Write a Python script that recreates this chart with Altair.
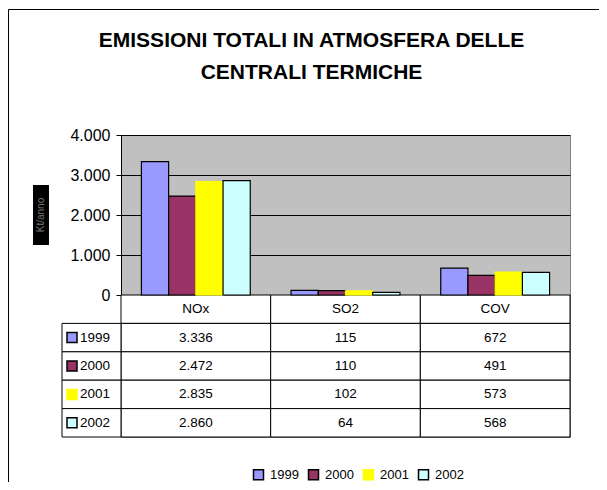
import altair as alt
import pandas as pd

categories = ["NOx", "SO2", "COV"]
years = ["1999", "2000", "2001", "2002"]
v1999 = [3336, 115, 672]
v2000 = [2472, 110, 491]
v2001 = [2835, 102, 573]
v2002 = [2860, 64, 568]
fill_colors = ["#9999FF", "#993366", "#FFFF00", "#CCFFFF"]
stroke_colors = ["#000000", "#000000", "#FFFF00", "#000000"]
y_ticks = [0, 1000, 2000, 3000, 4000]
title_lines = ["EMISSIONI TOTALI IN ATMOSFERA DELLE", "CENTRALI TERMICHE"]
y_title = "Kt/anno"

series = {"1999": v1999, "2000": v2000, "2001": v2001, "2002": v2002}

def it_fmt(v):
    return f"{v:,}".replace(",", ".")

bars_df = pd.DataFrame(
    [{"cat": c, "year": y, "value": series[y][i]} for y in years for i, c in enumerate(categories)]
)
rows = ["hdr"] + years
cells = [{"cat": c, "row": "hdr", "label": c} for c in categories]
cells += [{"cat": c, "row": y, "label": it_fmt(series[y][i])} for y in years for i, c in enumerate(categories)]
cells_df = pd.DataFrame(cells)
keys_df = pd.DataFrame({"row": years, "year": years})

FONT = "Liberation Sans"
W, H = 449, 302
PLOT_H = 160

x_scale = alt.Scale(domain=categories, paddingInner=0, paddingOuter=0)
row_scale = alt.Scale(domain=rows, range=[PLOT_H, H], paddingInner=0, paddingOuter=0)
color_scale = alt.Scale(domain=years, range=fill_colors)
stroke_scale = alt.Scale(domain=years, range=stroke_colors)

legend = alt.Legend(
    title=None, orient="none", direction="horizontal", legendX=131, legendY=333,
    symbolType="square", symbolSize=100, symbolStrokeWidth=1.5, labelFontSize=13,
    labelFont=FONT, labelColor="black", labelOffset=5, columnPadding=6, padding=0,
)

one = pd.DataFrame({"a": [0]})

frame = alt.Chart(one).mark_rect(fill="white", fillOpacity=0, stroke="black", strokeWidth=1).encode(
    x=alt.value(-112.5), x2=alt.value(700), y=alt.value(-125.5), y2=alt.value(600)
)

table_cells = alt.Chart(cells_df).mark_rect(fill="white", stroke="black", strokeWidth=1).encode(
    x=alt.X("cat:N", scale=x_scale, axis=None),
    y=alt.Y("row:N", scale=row_scale, axis=None),
)

key_cells = alt.Chart(keys_df).mark_rect(fill="white", stroke="black", strokeWidth=1).encode(
    x=alt.value(-59), x2=alt.value(0),
    y=alt.Y("row:N", scale=row_scale, axis=None),
)

bars = alt.Chart(bars_df).mark_bar(strokeWidth=1.2).encode(
    x=alt.X("cat:N", scale=x_scale, axis=None),
    xOffset=alt.XOffset("year:N", scale=alt.Scale(domain=years, paddingInner=0, paddingOuter=0.75)),
    y=alt.Y(
        "value:Q",
        scale=alt.Scale(domain=[0, 4000], range=[PLOT_H, 0], nice=False, zero=True),
        axis=alt.Axis(
            values=y_ticks, title=None, grid=True, gridColor="black", gridWidth=1,
            domainColor="black", domainWidth=1, tickColor="black", tickSize=5,
            labelFontSize=16, labelFont=FONT, labelColor="black", labelPadding=6,
            labelExpr="replace(format(datum.value, ','), ',', '.')",
        ),
    ),
    color=alt.Color("year:N", scale=color_scale, legend=legend),
    stroke=alt.Stroke("year:N", scale=stroke_scale, legend=legend),
)

keys = alt.Chart(keys_df).mark_square(size=100, strokeWidth=1.5, opacity=1).encode(
    x=alt.value(-49),
    y=alt.Y("row:N", scale=row_scale, axis=None),
    color=alt.Color("year:N", scale=color_scale, legend=legend),
    stroke=alt.Stroke("year:N", scale=stroke_scale, legend=legend),
)

key_labels = alt.Chart(keys_df).mark_text(align="left", baseline="middle", fontSize=13.5, font=FONT, color="black").encode(
    x=alt.value(-41),
    y=alt.Y("row:N", scale=row_scale, axis=None),
    text="year:N",
)

cell_text = alt.Chart(cells_df).mark_text(baseline="middle", fontSize=13.5, font=FONT, color="black").encode(
    x=alt.X("cat:N", scale=x_scale, axis=None),
    y=alt.Y("row:N", scale=row_scale, axis=None),
    text="label:N",
)

ybox = alt.Chart(one).mark_rect(color="black").encode(
    x=alt.value(-88), x2=alt.value(-72), y=alt.value(50), y2=alt.value(110)
)
ytext = alt.Chart(pd.DataFrame({"t": [y_title]})).mark_text(
    angle=270, fontSize=10, font=FONT, color="#7a7a7a", baseline="middle", align="center"
).encode(x=alt.value(-80), y=alt.value(80), text="t:N")

chart = alt.layer(
    frame, table_cells, key_cells, bars, keys, key_labels, cell_text, ybox, ytext
).resolve_scale(y="independent").properties(
    width=W, height=H, autosize="none",
    padding={"left": 113, "top": 127, "right": 29, "bottom": 45},
    title=alt.Title(
        text=title_lines, fontSize=21, fontWeight="bold", font=FONT, color="black",
        lineHeight=32, anchor="middle", frame="group", dx=-34, offset=-74,
    ),
).configure_view(fill="#C0C0C0", stroke="#808080")

chart.save("out.html", embed_options={"renderer": "svg", "actions": False})
